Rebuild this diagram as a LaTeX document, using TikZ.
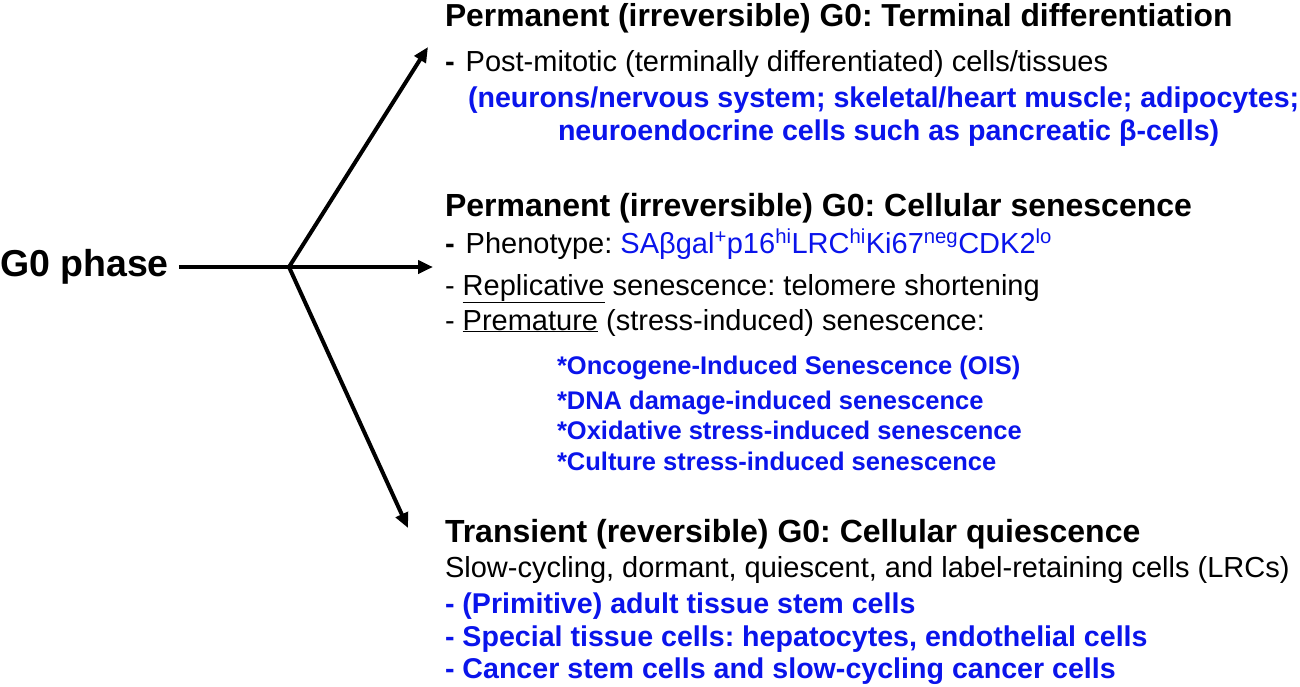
\documentclass[tikz,border=0pt]{standalone}
\usepackage{fontspec}
\setmainfont{Liberation Sans}
\usetikzlibrary{arrows.meta}
\definecolor{txtblue}{RGB}{10,20,235}
\tikzset{
  basept/.style={anchor=base west, inner sep=0pt, outer sep=0pt},
  bigttl/.style={basept, font=\fontsize{37.5}{42}\selectfont\bfseries},
  ttl/.style={basept, font=\fontsize{32}{38}\selectfont\bfseries},
  txt/.style={basept, font=\fontsize{29}{34}\selectfont},
  bluB/.style={basept, font=\fontsize{28.6}{34}\selectfont\bfseries, text=txtblue},
  starln/.style={basept, font=\fontsize{25.5}{30}\selectfont\bfseries, text=txtblue},
  conn/.style={line width=4pt, line cap=butt, line join=round},
  arr/.style={conn, -{Triangle[length=15pt,width=13pt]}},
}
\newcommand{\sps}[1]{\textsuperscript{#1}}
\begin{document}
\frenchspacing
\begin{tikzpicture}[x=1pt,y=-1pt]
\useasboundingbox (0,0) rectangle (1300,686);
% left label
\node[bigttl] (g0) at (0,276) {G0 phase};
\coordinate (j) at (289,267);
\coordinate (tipUp) at (428,47);
\coordinate (tipMid) at (433,267);
\coordinate (tipDn) at (408,528);
\draw[conn] (g0.east |- j) ++(10,0) coordinate (g0r) (g0r) -- (j);
\draw[arr] (j) -- (tipUp);
\draw[arr] (j) -- (tipMid);
\draw[arr] (j) -- (tipDn);
% section 1
\node[ttl, font=\fontsize{31.8}{38}\selectfont\bfseries] (t1) at (445,26) {Permanent (irreversible) G0: Terminal differentiation};
\node[txt] (l1) at (445,71) {{\bfseries -}\hspace{11pt}Post-mitotic (terminally differentiated) cells/tissues};
\node[bluB] (b1) at (468,107) {(neurons/nervous system; skeletal/heart muscle; adipocytes;};
\node[bluB] (b2) at (558,140) {neuroendocrine cells such as pancreatic β-cells)};
% section 2
\node[ttl] (t2) at (445,216) {Permanent (irreversible) G0: Cellular senescence};
\node[txt] (p1) at (445,253) {{\bfseries -}\hspace{11pt}Phenotype: \textcolor{txtblue}{SAβgal\sps{+}p16\sps{hi}LRC\sps{hi}Ki67\sps{neg}CDK2\sps{lo}}};
\node[txt] (p2) at (445,295) {- \underline{Replicative} senescence: telomere shortening};
\node[txt] (p3) at (445,330) {- \underline{Premature} (stress-induced) senescence:};
\node[starln] (s1) at (557,374) {*Oncogene-Induced Senescence (OIS)};
\node[starln] (s2) at (557,409) {*DNA damage-induced senescence};
\node[starln] (s3) at (557,439) {*Oxidative stress-induced senescence};
\node[starln] (s4) at (557,470) {*Culture stress-induced senescence};
% section 3
\node[ttl] (t3) at (445,542) {Transient (reversible) G0: Cellular quiescence};
\node[txt] (q1) at (445,577) {Slow-cycling, dormant, quiescent, and label-retaining cells (LRCs)};
\node[bluB] (q2) at (445,613) {- (Primitive) adult tissue stem cells};
\node[bluB] (q3) at (445,646) {- Special tissue cells: hepatocytes, endothelial cells};
\node[bluB] (q4) at (445,678) {- Cancer stem cells and slow-cycling cancer cells};
\end{tikzpicture}
\end{document}
